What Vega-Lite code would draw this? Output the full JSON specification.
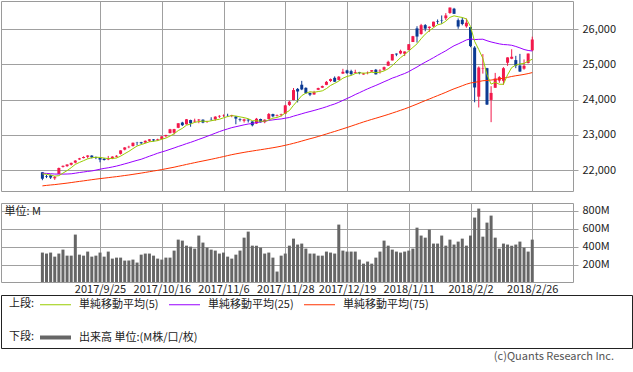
{
  "$schema": "https://vega.github.io/schema/vega-lite/v6.json",
  "padding": 0,
  "background": "white",
  "config": {
    "font": "Noto Sans CJK JP",
    "view": {"stroke": "#9a9a9a", "strokeWidth": 1},
    "axis": {"gridColor": "#a0a0a0", "gridWidth": 1, "tickColor": "#a0a0a0", "domain": false, "labelFont": "Noto Sans CJK JP", "labelFontSize": 11, "labelColor": "#222222"},
    "legend": {"labelFont": "Noto Sans CJK JP", "titleFont": "Noto Sans CJK JP", "labelFontSize": 11, "titleFontSize": 11, "titleFontWeight": "normal", "labelColor": "#222222", "titleColor": "#222222", "padding": 0}
  },
  "data": {"values": [
{"i":0,"d":"2017-09-05","o":21937,"h":21941,"l":21710,"c":21753,"v":337,"m5":21889,"m25":21910,"m75":21550},
{"i":1,"d":"2017-09-06","o":21825,"h":21860,"l":21770,"c":21808,"v":326,"m5":21878,"m25":21904,"m75":21563},
{"i":2,"d":"2017-09-07","o":21850,"h":21870,"l":21745,"c":21785,"v":337,"m5":21856,"m25":21895,"m75":21575},
{"i":3,"d":"2017-09-08","o":21765,"h":21830,"l":21720,"c":21798,"v":292,"m5":21826,"m25":21886,"m75":21586},
{"i":4,"d":"2017-09-11","o":21890,"h":22070,"l":21885,"c":22057,"v":326,"m5":21840,"m25":21884,"m75":21600},
{"i":5,"d":"2017-09-12","o":22090,"h":22130,"l":22070,"c":22119,"v":370,"m5":21913,"m25":21884,"m75":21614},
{"i":6,"d":"2017-09-13","o":22110,"h":22160,"l":22090,"c":22158,"v":303,"m5":21983,"m25":21887,"m75":21628},
{"i":7,"d":"2017-09-14","o":22150,"h":22210,"l":22130,"c":22203,"v":303,"m5":22067,"m25":21893,"m75":21644},
{"i":8,"d":"2017-09-15","o":22210,"h":22280,"l":22190,"c":22268,"v":537,"m5":22161,"m25":21910,"m75":21661},
{"i":9,"d":"2017-09-18","o":22300,"h":22345,"l":22290,"c":22331,"v":314,"m5":22216,"m25":21929,"m75":21677},
{"i":10,"d":"2017-09-19","o":22340,"h":22390,"l":22330,"c":22371,"v":303,"m5":22266,"m25":21944,"m75":21692},
{"i":11,"d":"2017-09-20","o":22375,"h":22420,"l":22330,"c":22413,"v":348,"m5":22317,"m25":21961,"m75":21709},
{"i":12,"d":"2017-09-21","o":22410,"h":22420,"l":22330,"c":22359,"v":292,"m5":22348,"m25":21974,"m75":21725},
{"i":13,"d":"2017-09-22","o":22370,"h":22380,"l":22310,"c":22350,"v":303,"m5":22365,"m25":21998,"m75":21741},
{"i":14,"d":"2017-09-25","o":22345,"h":22350,"l":22220,"c":22296,"v":337,"m5":22358,"m25":22023,"m75":21756},
{"i":15,"d":"2017-09-26","o":22320,"h":22340,"l":22270,"c":22284,"v":292,"m5":22340,"m25":22046,"m75":21769},
{"i":16,"d":"2017-09-27","o":22300,"h":22400,"l":22280,"c":22341,"v":348,"m5":22326,"m25":22064,"m75":21784},
{"i":17,"d":"2017-09-28","o":22330,"h":22390,"l":22310,"c":22381,"v":270,"m5":22330,"m25":22087,"m75":21798},
{"i":18,"d":"2017-09-29","o":22380,"h":22420,"l":22360,"c":22405,"v":281,"m5":22341,"m25":22112,"m75":21812},
{"i":19,"d":"2017-10-02","o":22460,"h":22560,"l":22440,"c":22558,"v":281,"m5":22394,"m25":22142,"m75":21827},
{"i":20,"d":"2017-10-03","o":22580,"h":22650,"l":22560,"c":22642,"v":248,"m5":22465,"m25":22175,"m75":21844},
{"i":21,"d":"2017-10-04","o":22645,"h":22690,"l":22620,"c":22662,"v":248,"m5":22530,"m25":22207,"m75":21859},
{"i":22,"d":"2017-10-05","o":22680,"h":22780,"l":22670,"c":22775,"v":259,"m5":22608,"m25":22242,"m75":21877},
{"i":23,"d":"2017-10-06","o":22780,"h":22800,"l":22700,"c":22774,"v":226,"m5":22682,"m25":22275,"m75":21895},
{"i":24,"d":"2017-10-09","o":22790,"h":22800,"l":22740,"c":22761,"v":314,"m5":22723,"m25":22306,"m75":21913},
{"i":25,"d":"2017-10-10","o":22780,"h":22840,"l":22760,"c":22831,"v":326,"m5":22761,"m25":22349,"m75":21932},
{"i":26,"d":"2017-10-11","o":22830,"h":22880,"l":22800,"c":22873,"v":326,"m5":22803,"m25":22392,"m75":21952},
{"i":27,"d":"2017-10-12","o":22870,"h":22880,"l":22810,"c":22841,"v":303,"m5":22816,"m25":22434,"m75":21972},
{"i":28,"d":"2017-10-13","o":22850,"h":22890,"l":22830,"c":22872,"v":270,"m5":22836,"m25":22477,"m75":21991},
{"i":29,"d":"2017-10-16","o":22880,"h":22960,"l":22870,"c":22957,"v":259,"m5":22875,"m25":22513,"m75":22013},
{"i":30,"d":"2017-10-17","o":22960,"h":23000,"l":22930,"c":22997,"v":281,"m5":22908,"m25":22548,"m75":22035},
{"i":31,"d":"2017-10-18","o":23050,"h":23170,"l":23040,"c":23158,"v":281,"m5":22965,"m25":22588,"m75":22058},
{"i":32,"d":"2017-10-19","o":23060,"h":23170,"l":23010,"c":23163,"v":359,"m5":23029,"m25":22627,"m75":22080},
{"i":33,"d":"2017-10-20","o":23200,"h":23330,"l":23190,"c":23329,"v":481,"m5":23121,"m25":22669,"m75":22107},
{"i":34,"d":"2017-10-23","o":23350,"h":23370,"l":23250,"c":23274,"v":470,"m5":23184,"m25":22707,"m75":22132},
{"i":35,"d":"2017-10-24","o":23300,"h":23450,"l":23290,"c":23442,"v":414,"m5":23273,"m25":22750,"m75":22159},
{"i":36,"d":"2017-10-25","o":23420,"h":23430,"l":23230,"c":23329,"v":403,"m5":23307,"m25":22786,"m75":22184},
{"i":37,"d":"2017-10-26","o":23380,"h":23460,"l":23350,"c":23401,"v":381,"m5":23355,"m25":22828,"m75":22209},
{"i":38,"d":"2017-10-27","o":23410,"h":23450,"l":23330,"c":23434,"v":526,"m5":23376,"m25":22871,"m75":22234},
{"i":39,"d":"2017-10-30","o":23430,"h":23440,"l":23330,"c":23349,"v":448,"m5":23391,"m25":22913,"m75":22257},
{"i":40,"d":"2017-10-31","o":23370,"h":23400,"l":23340,"c":23377,"v":392,"m5":23378,"m25":22957,"m75":22281},
{"i":41,"d":"2017-11-01","o":23440,"h":23500,"l":23400,"c":23435,"v":370,"m5":23399,"m25":23001,"m75":22305},
{"i":42,"d":"2017-11-02","o":23440,"h":23530,"l":23400,"c":23516,"v":359,"m5":23422,"m25":23046,"m75":22330},
{"i":43,"d":"2017-11-03","o":23520,"h":23560,"l":23480,"c":23539,"v":326,"m5":23443,"m25":23092,"m75":22356},
{"i":44,"d":"2017-11-06","o":23540,"h":23580,"l":23510,"c":23548,"v":337,"m5":23483,"m25":23131,"m75":22382},
{"i":45,"d":"2017-11-07","o":23560,"h":23600,"l":23520,"c":23557,"v":292,"m5":23519,"m25":23168,"m75":22410},
{"i":46,"d":"2017-11-08","o":23540,"h":23570,"l":23500,"c":23563,"v":270,"m5":23545,"m25":23204,"m75":22436},
{"i":47,"d":"2017-11-09","o":23520,"h":23530,"l":23300,"c":23462,"v":314,"m5":23534,"m25":23231,"m75":22459},
{"i":48,"d":"2017-11-10","o":23440,"h":23470,"l":23380,"c":23422,"v":359,"m5":23510,"m25":23257,"m75":22481},
{"i":49,"d":"2017-11-13","o":23400,"h":23460,"l":23350,"c":23440,"v":503,"m5":23489,"m25":23284,"m75":22502},
{"i":50,"d":"2017-11-14","o":23430,"h":23450,"l":23350,"c":23409,"v":570,"m5":23459,"m25":23307,"m75":22522},
{"i":51,"d":"2017-11-15","o":23380,"h":23390,"l":23240,"c":23271,"v":414,"m5":23401,"m25":23323,"m75":22540},
{"i":52,"d":"2017-11-16","o":23320,"h":23480,"l":23310,"c":23458,"v":414,"m5":23400,"m25":23348,"m75":22559},
{"i":53,"d":"2017-11-17","o":23450,"h":23460,"l":23350,"c":23358,"v":392,"m5":23387,"m25":23368,"m75":22577},
{"i":54,"d":"2017-11-20","o":23360,"h":23440,"l":23330,"c":23430,"v":326,"m5":23385,"m25":23386,"m75":22595},
{"i":55,"d":"2017-11-21","o":23450,"h":23620,"l":23440,"c":23591,"v":337,"m5":23422,"m25":23410,"m75":22614},
{"i":56,"d":"2017-11-22","o":23590,"h":23600,"l":23500,"c":23526,"v":281,"m5":23473,"m25":23425,"m75":22633},
{"i":57,"d":"2017-11-24","o":23540,"h":23580,"l":23520,"c":23558,"v":126,"m5":23493,"m25":23441,"m75":22654},
{"i":58,"d":"2017-11-27","o":23560,"h":23600,"l":23520,"c":23581,"v":303,"m5":23537,"m25":23451,"m75":22677},
{"i":59,"d":"2017-11-28","o":23600,"h":23850,"l":23590,"c":23837,"v":326,"m5":23619,"m25":23473,"m75":22703},
{"i":60,"d":"2017-11-29","o":23850,"h":23970,"l":23820,"c":23941,"v":414,"m5":23689,"m25":23493,"m75":22729},
{"i":61,"d":"2017-11-30","o":23990,"h":24330,"l":23980,"c":24272,"v":492,"m5":23838,"m25":23531,"m75":22759},
{"i":62,"d":"2017-12-01","o":24305,"h":24330,"l":23921,"c":24232,"v":426,"m5":23973,"m25":23564,"m75":22789},
{"i":63,"d":"2017-12-04","o":24424,"h":24534,"l":24270,"c":24290,"v":437,"m5":24114,"m25":23598,"m75":22823},
{"i":64,"d":"2017-12-05","o":24335,"h":24350,"l":24170,"c":24181,"v":381,"m5":24183,"m25":23632,"m75":22856},
{"i":65,"d":"2017-12-06","o":24190,"h":24200,"l":24100,"c":24141,"v":326,"m5":24223,"m25":23662,"m75":22889},
{"i":66,"d":"2017-12-07","o":24147,"h":24250,"l":24140,"c":24211,"v":326,"m5":24211,"m25":23693,"m75":22919},
{"i":67,"d":"2017-12-08","o":24280,"h":24340,"l":24270,"c":24329,"v":303,"m5":24230,"m25":23726,"m75":22953},
{"i":68,"d":"2017-12-11","o":24340,"h":24400,"l":24330,"c":24386,"v":303,"m5":24250,"m25":23760,"m75":22988},
{"i":69,"d":"2017-12-12","o":24420,"h":24530,"l":24410,"c":24505,"v":348,"m5":24314,"m25":23798,"m75":23024},
{"i":70,"d":"2017-12-13","o":24530,"h":24600,"l":24500,"c":24585,"v":337,"m5":24403,"m25":23839,"m75":23061},
{"i":71,"d":"2017-12-14","o":24620,"h":24660,"l":24500,"c":24509,"v":326,"m5":24463,"m25":23877,"m75":23096},
{"i":72,"d":"2017-12-15","o":24560,"h":24670,"l":24550,"c":24652,"v":648,"m5":24527,"m25":23925,"m75":23133},
{"i":73,"d":"2017-12-18","o":24740,"h":24876,"l":24730,"c":24792,"v":359,"m5":24609,"m25":23979,"m75":23171},
{"i":74,"d":"2017-12-19","o":24830,"h":24850,"l":24730,"c":24755,"v":348,"m5":24659,"m25":24032,"m75":23208},
{"i":75,"d":"2017-12-20","o":24810,"h":24850,"l":24690,"c":24727,"v":348,"m5":24687,"m25":24085,"m75":23247},
{"i":76,"d":"2017-12-21","o":24760,"h":24850,"l":24740,"c":24782,"v":348,"m5":24742,"m25":24145,"m75":23287},
{"i":77,"d":"2017-12-22","o":24780,"h":24790,"l":24720,"c":24754,"v":259,"m5":24762,"m25":24197,"m75":23326},
{"i":78,"d":"2017-12-26","o":24715,"h":24760,"l":24710,"c":24746,"v":214,"m5":24753,"m25":24253,"m75":23366},
{"i":79,"d":"2017-12-27","o":24766,"h":24800,"l":24720,"c":24774,"v":237,"m5":24757,"m25":24306,"m75":23402},
{"i":80,"d":"2017-12-28","o":24797,"h":24840,"l":24780,"c":24838,"v":214,"m5":24779,"m25":24356,"m75":23438},
{"i":81,"d":"2017-12-29","o":24850,"h":24872,"l":24715,"c":24719,"v":281,"m5":24766,"m25":24404,"m75":23472},
{"i":82,"d":"2018-01-02","o":24809,"h":24864,"l":24742,"c":24824,"v":348,"m5":24780,"m25":24455,"m75":23507},
{"i":83,"d":"2018-01-03","o":24850,"h":24941,"l":24825,"c":24923,"v":470,"m5":24816,"m25":24508,"m75":23543},
{"i":84,"d":"2018-01-04","o":24964,"h":25105,"l":24963,"c":25075,"v":414,"m5":24876,"m25":24558,"m75":23579},
{"i":85,"d":"2018-01-05","o":25114,"h":25299,"l":25112,"c":25296,"v":370,"m5":24967,"m25":24612,"m75":23618},
{"i":86,"d":"2018-01-08","o":25308,"h":25311,"l":25235,"c":25283,"v":348,"m5":25080,"m25":24652,"m75":23657},
{"i":87,"d":"2018-01-09","o":25312,"h":25420,"l":25290,"c":25386,"v":337,"m5":25193,"m25":24699,"m75":23697},
{"i":88,"d":"2018-01-10","o":25305,"h":25370,"l":25239,"c":25369,"v":348,"m5":25282,"m25":24742,"m75":23737},
{"i":89,"d":"2018-01-11","o":25406,"h":25575,"l":25406,"c":25575,"v":359,"m5":25382,"m25":24797,"m75":23781},
{"i":90,"d":"2018-01-12","o":25638,"h":25812,"l":25637,"c":25803,"v":381,"m5":25483,"m25":24864,"m75":23828},
{"i":91,"d":"2018-01-16","o":26025,"h":26086,"l":25621,"c":25793,"v":614,"m5":25585,"m25":24927,"m75":23874},
{"i":92,"d":"2018-01-17","o":25866,"h":26153,"l":25845,"c":26116,"v":526,"m5":25731,"m25":24999,"m75":23924},
{"i":93,"d":"2018-01-18","o":26118,"h":26147,"l":25943,"c":26018,"v":503,"m5":25861,"m25":25064,"m75":23972},
{"i":94,"d":"2018-01-19","o":26037,"h":26080,"l":25928,"c":26072,"v":592,"m5":25960,"m25":25127,"m75":24019},
{"i":95,"d":"2018-01-22","o":26079,"h":26215,"l":26057,"c":26215,"v":437,"m5":26043,"m25":25192,"m75":24066},
{"i":96,"d":"2018-01-23","o":26227,"h":26278,"l":26149,"c":26211,"v":437,"m5":26126,"m25":25260,"m75":24114},
{"i":97,"d":"2018-01-24","o":26264,"h":26392,"l":26155,"c":26252,"v":526,"m5":26154,"m25":25324,"m75":24160},
{"i":98,"d":"2018-01-25","o":26313,"h":26458,"l":26260,"c":26393,"v":414,"m5":26229,"m25":25388,"m75":24208},
{"i":99,"d":"2018-01-26","o":26463,"h":26617,"l":26439,"c":26617,"v":481,"m5":26338,"m25":25462,"m75":24260},
{"i":100,"d":"2018-01-29","o":26584,"h":26608,"l":26435,"c":26439,"v":426,"m5":26382,"m25":25531,"m75":24308},
{"i":101,"d":"2018-01-30","o":26258,"h":26307,"l":26014,"c":26077,"v":459,"m5":26356,"m25":25583,"m75":24350},
{"i":102,"d":"2018-01-31","o":26268,"h":26338,"l":26112,"c":26149,"v":492,"m5":26335,"m25":25639,"m75":24395},
{"i":103,"d":"2018-02-01","o":26083,"h":26306,"l":26042,"c":26187,"v":414,"m5":26294,"m25":25696,"m75":24439},
{"i":104,"d":"2018-02-02","o":26062,"h":26062,"l":25490,"c":25521,"v":526,"m5":26075,"m25":25726,"m75":24473},
{"i":105,"d":"2018-02-05","o":25480,"h":25521,"l":23924,"c":24346,"v":726,"m5":25656,"m25":25706,"m75":24491},
{"i":106,"d":"2018-02-06","o":24085,"h":24946,"l":23778,"c":24913,"v":826,"m5":25423,"m25":25714,"m75":24514},
{"i":107,"d":"2018-02-07","o":24880,"h":25294,"l":24740,"c":24893,"v":514,"m5":25172,"m25":25717,"m75":24537},
{"i":108,"d":"2018-02-08","o":24894,"h":24903,"l":23849,"c":23860,"v":670,"m5":24707,"m25":25674,"m75":24544},
{"i":109,"d":"2018-02-09","o":23992,"h":24382,"l":23360,"c":24191,"v":748,"m5":24441,"m25":25639,"m75":24557},
{"i":110,"d":"2018-02-12","o":24337,"h":24760,"l":24337,"c":24601,"v":503,"m5":24492,"m25":25611,"m75":24572},
{"i":111,"d":"2018-02-13","o":24541,"h":24668,"l":24479,"c":24640,"v":381,"m5":24437,"m25":25585,"m75":24590},
{"i":112,"d":"2018-02-14","o":24535,"h":24924,"l":24421,"c":24893,"v":437,"m5":24437,"m25":25566,"m75":24610},
{"i":113,"d":"2018-02-15","o":25048,"h":25203,"l":24960,"c":25200,"v":426,"m5":24705,"m25":25559,"m75":24633},
{"i":114,"d":"2018-02-16","o":25165,"h":25432,"l":25149,"c":25219,"v":414,"m5":24911,"m25":25545,"m75":24658},
{"i":115,"d":"2018-02-20","o":25124,"h":25245,"l":24894,"c":24965,"v":426,"m5":24983,"m25":25511,"m75":24679},
{"i":116,"d":"2018-02-21","o":24970,"h":25300,"l":24789,"c":24798,"v":459,"m5":25015,"m25":25471,"m75":24697},
{"i":117,"d":"2018-02-22","o":24880,"h":25143,"l":24850,"c":24962,"v":392,"m5":25029,"m25":25425,"m75":24717},
{"i":118,"d":"2018-02-23","o":25040,"h":25310,"l":25030,"c":25310,"v":348,"m5":25091,"m25":25397,"m75":24740},
{"i":119,"d":"2018-02-26","o":25400,"h":25790,"l":25380,"c":25709,"v":481,"m5":25149,"m25":25382,"m75":24769}
  ]},
  "spacing": -1,
  "vconcat": [
    {
      "spacing": 10,
      "vconcat": [
        {
          "width": 572,
          "height": 190,
          "encoding": {
            "x": {"field": "i", "type": "quantitative", "scale": {"domain": [-8.84, 127.68], "nice": false, "zero": false},
                  "axis": {"values": [14, 29, 44, 59, 74, 89, 104, 119], "labels": false, "ticks": false, "domain": false, "grid": true, "title": null}}
          },
          "layer": [
            {
              "mark": {"type": "rule", "strokeWidth": 1},
              "encoding": {
                "y": {"field": "l", "type": "quantitative", "scale": {"domain": [21404, 26803], "nice": false, "zero": false},
                      "axis": {"orient": "right", "values": [22000, 23000, 24000, 25000, 26000], "format": ",.0f", "grid": true, "tickSize": 5, "labelPadding": 4, "domain": false, "title": null}},
                "y2": {"field": "h"},
                "color": {"condition": {"test": "datum.c >= datum.o", "value": "#f2194b"}, "value": "#0b3a93"}
              }
            },
            {
              "mark": {"type": "bar", "size": 3},
              "encoding": {
                "y": {"field": "o", "type": "quantitative"},
                "y2": {"field": "c"},
                "color": {"condition": {"test": "datum.c >= datum.o", "value": "#f2194b"}, "value": "#0b3a93"}
              }
            },
            {
              "mark": {"type": "line", "strokeWidth": 1},
              "encoding": {
                "y": {"field": "m75", "type": "quantitative"},
                "stroke": {"datum": "単純移動平均(75)", "type": "nominal",
                  "scale": {"domain": ["単純移動平均(5)", "単純移動平均(25)", "単純移動平均(75)"], "range": ["#99cc00", "#9900ff", "#ff3300"]},
                  "legend": {"orient": "none", "legendX": 8, "legendY": 298, "direction": "horizontal", "title": "上段:", "titleOrient": "left", "titlePadding": 8, "symbolType": "M-3.1,0H3.1", "symbolSize": 100, "symbolStrokeWidth": 1, "symbolOffset": 7, "labelOffset": 18, "columnPadding": 8}}
              }
            },
            {
              "mark": {"type": "line", "strokeWidth": 1},
              "encoding": {
                "y": {"field": "m25", "type": "quantitative"},
                "stroke": {"datum": "単純移動平均(25)", "type": "nominal"}
              }
            },
            {
              "mark": {"type": "line", "strokeWidth": 1},
              "encoding": {
                "y": {"field": "m5", "type": "quantitative"},
                "stroke": {"datum": "単純移動平均(5)", "type": "nominal"}
              }
            }
          ]
        },
        {
          "width": 572,
          "height": 79,
          "mark": {"type": "bar", "size": 3, "clip": true},
          "encoding": {
            "x": {"field": "i", "type": "quantitative", "scale": {"domain": [-8.84, 127.68], "nice": false, "zero": false},
                  "axis": {"values": [14, 29, 44, 59, 74, 89, 104, 119], "grid": true, "ticks": false, "domain": false, "title": null, "labelPadding": 1, "labelOverlap": false, "labelFlush": false, "labelBound": false,
                           "labelExpr": "datum.value == 14 ? '2017/9/25' : datum.value == 29 ? '2017/10/16' : datum.value == 44 ? '2017/11/6' : datum.value == 59 ? '2017/11/28' : datum.value == 74 ? '2017/12/19' : datum.value == 89 ? '2018/1/11' : datum.value == 104 ? '2018/2/2' : '2018/2/26'"}},
            "y": {"field": "v", "type": "quantitative", "scale": {"domain": [10, 888], "nice": false, "zero": false},
                  "axis": {"orient": "right", "values": [200, 400, 600, 800], "labelExpr": "datum.value + 'M'", "grid": true, "tickSize": 5, "labelPadding": 4, "domain": false,
                           "title": "単位: M", "titleX": -569, "titleY": 8, "titleAngle": 0, "titleAlign": "left", "titleBaseline": "middle", "titleFontWeight": "normal", "titleFontSize": 11, "titleColor": "#222222"}},
            "fill": {"datum": "出来高 単位:(M株/口/枚)", "type": "nominal", "scale": {"range": ["#666666"]},
                     "legend": {"orient": "none", "legendX": 8, "legendY": 331, "title": "下段:", "titleOrient": "left", "titlePadding": 8, "symbolType": "M-3.1,-0.4H3.1V0.4H-3.1Z", "symbolSize": 100, "symbolStrokeWidth": 0, "symbolOffset": 7, "labelOffset": 18}}
          }
        }
      ]
    },
    {
      "width": 631,
      "height": 53,
      "data": {"values": []},
      "mark": "rule",
      "encoding": {},
      "view": {"stroke": "#222222"},
      "title": {"text": "(c)Quants Research Inc.", "orient": "bottom", "anchor": "end", "fontSize": 11, "fontWeight": "normal", "color": "#555555", "offset": 3, "dx": -18}
    }
  ]
}
